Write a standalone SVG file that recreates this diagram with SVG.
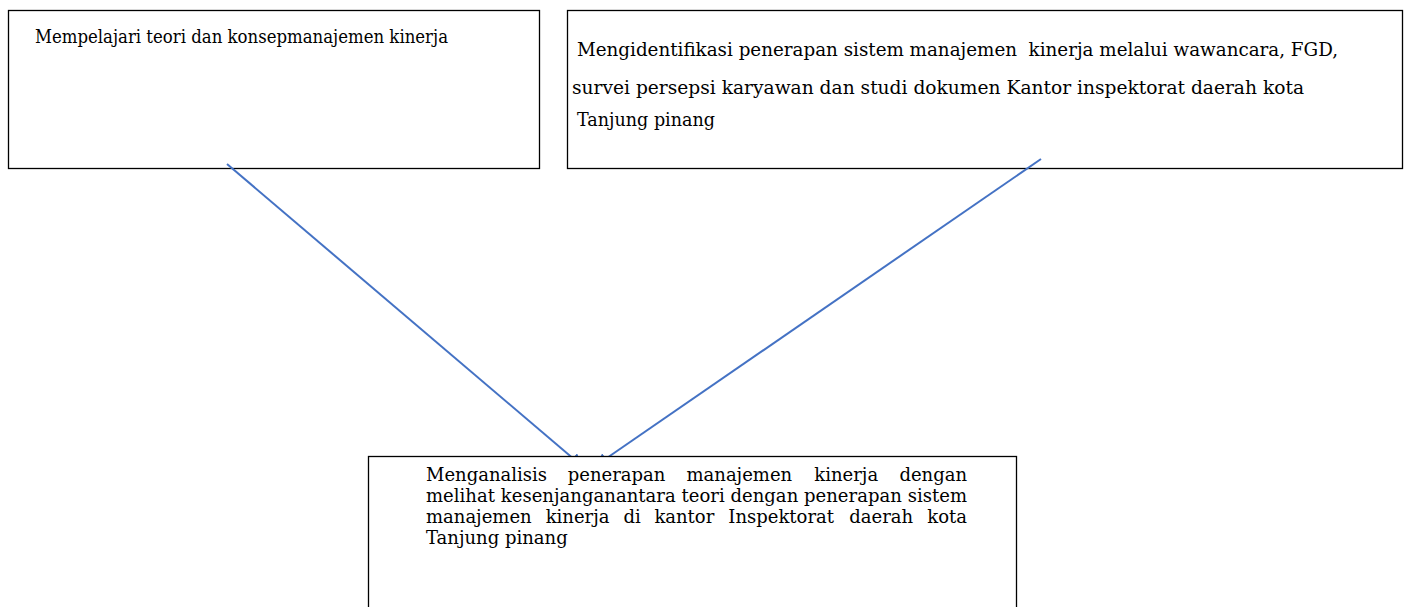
<svg xmlns="http://www.w3.org/2000/svg" width="1408" height="607" viewBox="0 0 1408 607">
<style>
.box{fill:#fff;stroke:#000;stroke-width:1.3}
.t{font-family:"DejaVu Serif","Liberation Serif",serif;font-size:18px;fill:#000}
.conn{stroke:#4472C4;stroke-width:2;fill:none}
</style>
<defs>
<marker id="ah" markerUnits="userSpaceOnUse" markerWidth="14" markerHeight="14" refX="12" refY="6.5" orient="auto">
<path d="M0,0 L12,6.5 L0,13 z" fill="#4472C4"/>
</marker>
</defs>
<g id="node1">
<rect class="box" x="8.5" y="10.5" width="531" height="158"/>
<text class="t" x="35" y="43" font-size="17" textLength="413" lengthAdjust="spacingAndGlyphs">Mempelajari teori dan konsepmanajemen kinerja</text>
</g>
<g id="node2">
<rect class="box" x="567.5" y="10.5" width="835" height="158"/>
<text class="t" x="577" y="56" style="white-space:pre" textLength="761" lengthAdjust="spacingAndGlyphs">Mengidentifikasi penerapan sistem manajemen  kinerja melalui wawancara, FGD,</text>
<text class="t" x="572" y="94" textLength="732" lengthAdjust="spacingAndGlyphs">survei persepsi karyawan dan studi dokumen Kantor inspektorat daerah kota</text>
<text class="t" x="577" y="126" textLength="138" lengthAdjust="spacingAndGlyphs">Tanjung pinang</text>
</g>
<g id="connectors">
<line class="conn" x1="227" y1="164" x2="582" y2="466" marker-end="url(#ah)"/>
<line class="conn" x1="1041" y1="159" x2="596" y2="465.5" marker-end="url(#ah)"/>
</g>
<g id="node3">
<rect class="box" x="368.5" y="456.5" width="648" height="160"/>
<text class="t" y="481"><tspan x="426">Menganalisis</tspan><tspan x="567.8">penerapan</tspan><tspan x="686.5">manajemen</tspan><tspan x="814.3">kinerja</tspan></text>
<text class="t" x="967" y="481" text-anchor="end">dengan</text>
<text class="t" x="426" y="502" textLength="541" lengthAdjust="spacing">melihat kesenjanganantara teori dengan penerapan sistem</text>
<text class="t" y="523"><tspan x="426">manajemen</tspan><tspan x="545.7">kinerja</tspan><tspan x="623.4">di</tspan><tspan x="654.4">kantor</tspan><tspan x="728.3">Inspektorat</tspan><tspan x="849.3">daerah</tspan></text>
<text class="t" x="967" y="523" text-anchor="end">kota</text>
<text class="t" x="426" y="544">Tanjung pinang</text>
</g>
</svg>
